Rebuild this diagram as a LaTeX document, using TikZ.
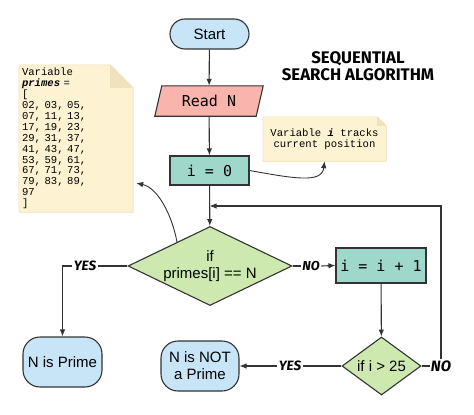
\documentclass[tikz,border=0pt]{standalone}
\usepackage{fontspec}
\setmainfont{Liberation Sans}
\newfontfamily\boxmono{DejaVu Sans Mono}
\newfontfamily\notemono{Liberation Mono}
\newfontfamily\comicf{Fira Sans}
\usetikzlibrary{shapes.geometric,arrows.meta,calc,backgrounds}
\definecolor{linec}{HTML}{333333}
\definecolor{termblue}{HTML}{C7E5F7}
\definecolor{readsalmon}{HTML}{F9B5AD}
\definecolor{procteal}{HTML}{9FD7CA}
\definecolor{decgreen}{HTML}{CDE9B0}
\definecolor{notefill}{HTML}{FDF3D2}
\definecolor{noteedge}{HTML}{EDE1B5}
\definecolor{notefold}{HTML}{EFE2BC}
\begin{document}
\begin{tikzpicture}[x=1pt,y=-1pt,
  line/.style={draw=linec, line width=1.1pt},
  arr/.style={line, -{Latex[length=7pt,width=5.5pt]}},
  term/.style={draw=linec, line width=1.1pt, fill=termblue, rounded corners=15pt,
    font=\fontsize{15}{17}\selectfont, align=center, inner sep=0pt},
  proc/.style={draw=linec, line width=1.1pt, fill=procteal,
    font=\boxmono\fontsize{15}{17}\selectfont, inner sep=0pt},
  dec/.style={diamond, draw=linec, line width=1.1pt, fill=decgreen, inner sep=0pt,
    font=\fontsize{15}{17}\selectfont, align=center},
  lbl/.style={fill=white, inner sep=1.5pt, font=\comicf\bfseries\itshape\fontsize{13.5}{15}\selectfont},
  notetext/.style={inner sep=0pt, font=\notemono\fontsize{10.6}{10.9}\selectfont},
]
\useasboundingbox (0,0) rectangle (474,415);

% nodes
\node[term, minimum width=79pt, minimum height=30pt] (start) at (209.5,34) {Start};
\node[inner sep=0pt, minimum width=101pt, minimum height=30pt,
  font=\boxmono\fontsize{15}{17}\selectfont] (read) at (209,101) {Read N};
\node[proc, minimum width=79pt, minimum height=29pt] (i0) at (209.5,170.5) {i = 0};
\node[dec, minimum width=164pt, minimum height=79pt, aspect=2.08] (d1) at (210,266) {if\\primes[i] == N};
\node[proc, minimum width=90pt, minimum height=35pt] (inc) at (381,265.5) {i = i + 1};
\node[dec, minimum width=79pt, minimum height=58pt, aspect=1.36] (d2) at (381.5,366) {if i > 25};
\node[term, minimum width=79pt, minimum height=50pt, rounded corners=17pt] (prime) at (62.5,362) {N is Prime};
\node[term, minimum width=78pt, minimum height=50pt, rounded corners=17pt] (notprime) at (200,366) {N is NOT\\a Prime};

\node[notetext, minimum width=123pt, minimum height=44pt, align=center] (inote) at (324.5,139)
  {Variable \textbf{\textit{i}} tracks\\current position};
\node[notetext, minimum width=114pt, minimum height=147pt, text width=108pt, inner xsep=3pt, align=left] (primes) at (76,138.5)
  {Variable\\\textbf{\textit{primes}} =\\{[}\\02, 03, 05,\\07, 11, 13,\\17, 19, 23,\\29, 31, 37,\\41, 43, 47,\\53, 59, 61,\\67, 71, 73,\\79, 83, 89,\\97\\{]}};

\node[font=\comicf\bfseries\fontsize{16.8}{17}\selectfont, align=center, inner sep=0pt] (title) at (358,66)
  {SEQUENTIAL\\SEARCH ALGORITHM};

% labels
\node[lbl] (yes1) at (85,266) {YES};
\node[lbl, font=\comicf\bfseries\itshape\fontsize{13}{15}\selectfont] (no1) at (311,266) {NO};
\node[lbl] (yes2) at (290,366) {YES};
\node[lbl, font=\comicf\bfseries\itshape\fontsize{15}{17}\selectfont, inner sep=1pt] (no2) at (441,366) {NO};

% background shapes
\begin{scope}[on background layer]
  \draw[line, fill=readsalmon]
    ($(read.south west)+(-3.5,0)$) -- ($(read.north west)+(3.5,0)$) --
    ($(read.north east)+(3.5,0)$) -- ($(read.south east)+(-3.5,0)$) -- cycle;
  \draw[draw=noteedge, line width=0.6pt, fill=notefill]
    (primes.south west) -- (primes.north west) -- ($(primes.north east)+(-23,0)$) --
    ($(primes.north east)+(0,23)$) -- (primes.south east) -- cycle;
  \fill[notefold] ($(primes.north east)+(-23,0)$) -- ($(primes.north east)+(-23,23)$) -- ($(primes.north east)+(0,23)$) -- cycle;
  \draw[draw=noteedge, line width=0.6pt, fill=notefill]
    (inote.south west) -- (inote.north west) -- ($(inote.north east)+(-9,0)$) --
    ($(inote.north east)+(0,9)$) -- (inote.south east) -- cycle;
  \fill[notefold] ($(inote.north east)+(-9,0)$) -- ($(inote.north east)+(-9,9)$) -- ($(inote.north east)+(0,9)$) -- cycle;
\end{scope}

% connectors
\draw[arr] (start) -- (read);
\draw[arr] (read) -- (i0);
\draw[arr] (i0) -- (d1);
\draw[line] (d1.west) -- (yes1.east);
\draw[arr] (yes1.west) -| (prime.north);
\draw[line] (d1.east) -- (no1.west);
\draw[arr] (no1.east) -- (inc.west);
\draw[arr] (inc) -- (d2);
\draw[line] (d2.west) -- (yes2.east);
\draw[arr] (yes2.west) -- (notprime.east);
\draw[line] (d2.east) -- (no2.west);
\coordinate (join) at (209.5,206);
\draw[arr] (no2.north) |- (join);

\coordinate (pstart) at ($(d1.west)!0.6!(d1.north)$);
\coordinate (pend) at ($(primes.east)+(3,44.5)$);
\draw[line, line width=0.9pt, -{Latex[length=7pt,width=5.5pt]}] (pstart) .. controls (172,215) and (158,188) .. (pend);
\draw[line, line width=0.9pt, -{Latex[length=7pt,width=5.5pt]}] (i0.east) .. controls (292,178) and (322,184) .. (inote.south);
\end{tikzpicture}
\end{document}
